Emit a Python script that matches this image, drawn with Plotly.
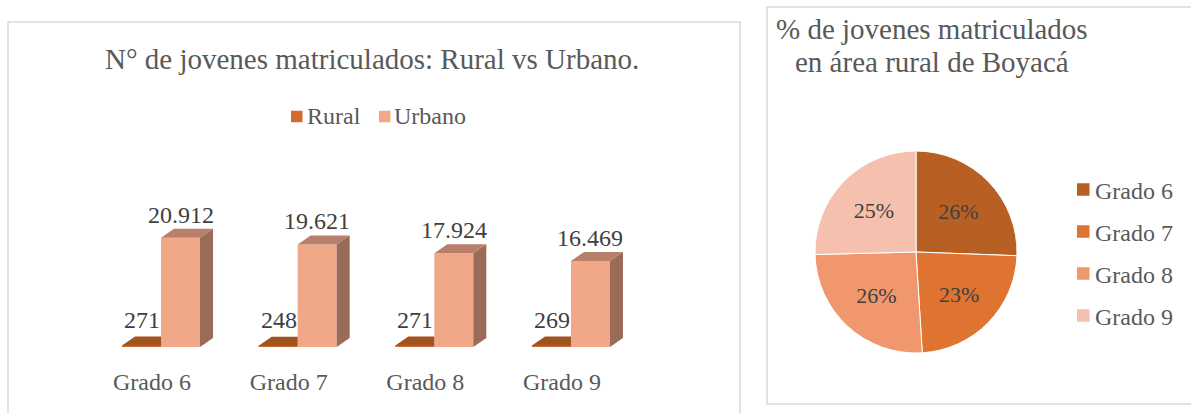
import plotly.graph_objects as go

# ---------------- data ----------------
categories = ["Grado 6", "Grado 7", "Grado 8", "Grado 9"]
rural = [271, 248, 271, 269]
urbano = [20912, 19621, 17924, 16469]
rural_labels = ["271", "248", "271", "269"]
urbano_labels = ["20.912", "19.621", "17.924", "16.469"]
series_names = ["Rural", "Urbano"]

bar_title = "N° de jovenes matriculados: Rural vs Urbano."
pie_title_1 = "% de jovenes matriculados"
pie_title_2 = "en área rural de Boyacá"

# ---------------- style / geometry ----------------
W, H = 1191, 413
FONT = "Liberation Serif, Times New Roman, serif"
GRAY = "#595959"
DARK = "#404040"

rural_front = "#C8662A"
rural_top = "#A0531F"
rural_legend = "#D26C2C"
urb_front = "#F0A889"
urb_top = "#B8806A"
urb_side = "#9A6B57"
pie_colors = ["#B86024", "#DE7430", "#F0976D", "#F5C0AD"]


def px(x):
    return x / W


def py(y):
    return 1 - y / H


X_DOM_PX = (92.7, 639.3)
X_RANGE = (-0.5, 3.5)
Y_DOM_PX = (138.0, 347.0)  # top, bottom
Y_RANGE = (0, 40000)

ux = (X_DOM_PX[1] - X_DOM_PX[0]) / (X_RANGE[1] - X_RANGE[0])  # px per x unit
uy = (Y_DOM_PX[1] - Y_DOM_PX[0]) / (Y_RANGE[1] - Y_RANGE[0])  # px per y unit

bw = 39 / ux          # bar width in x units
ddx = 13 / ux         # 3D depth offset
ddy = 9 / uy

idx = list(range(len(categories)))
rural_x = [i - bw / 2 for i in idx]
urb_x = [i + bw / 2 for i in idx]

fig = go.Figure()

# rural top faces (clipped where hidden by the urban bar)
for i, v in zip(idx, rural):
    xl, xr = i - bw, i
    fig.add_trace(go.Scatter(
        x=[xl, xl + ddx, xr, xr, xl], y=[v, v + ddy, v + ddy, v, v],
        mode="lines", fill="toself", fillcolor=rural_top,
        line=dict(width=0), showlegend=False, hoverinfo="skip"))

# urban top and side faces
for i, v in zip(idx, urbano):
    xl, xr = i, i + bw
    fig.add_trace(go.Scatter(
        x=[xl, xl + ddx, xr + ddx, xr, xl], y=[v, v + ddy, v + ddy, v, v],
        mode="lines", fill="toself", fillcolor=urb_top,
        line=dict(width=0), showlegend=False, hoverinfo="skip"))
    fig.add_trace(go.Scatter(
        x=[xr, xr, xr + ddx, xr + ddx, xr], y=[0, v, v + ddy, ddy, 0],
        mode="lines", fill="toself", fillcolor=urb_side,
        line=dict(width=0), showlegend=False, hoverinfo="skip"))

fig.add_trace(go.Bar(
    x=rural_x, y=rural, width=bw, name=series_names[0],
    marker=dict(color=rural_front, line=dict(width=0)),
    showlegend=False, hoverinfo="y"))
fig.add_trace(go.Bar(
    x=urb_x, y=urbano, width=bw, name=series_names[1],
    marker=dict(color=urb_front, line=dict(width=0)),
    showlegend=False, hoverinfo="y"))

fig.add_trace(go.Pie(
    labels=categories, values=rural, sort=False, direction="clockwise",
    rotation=0,
    domain=dict(x=[px(815), px(1017)], y=[py(353), py(151)]),
    marker=dict(colors=pie_colors, line=dict(color="white", width=1)),
    textinfo="percent", texttemplate="%{percent:.0%}",
    textposition="inside", insidetextorientation="horizontal",
    textfont=dict(family=FONT, size=22, color=DARK),
    showlegend=False, hoverinfo="label+value+percent"))

annotations = [
    dict(text=bar_title, x=px(372), y=py(59), xref="paper", yref="paper",
         showarrow=False, xanchor="center", yanchor="middle",
         font=dict(family=FONT, size=29, color=GRAY)),
    dict(text=pie_title_1, x=px(932), y=py(29), xref="paper", yref="paper",
         showarrow=False, xanchor="center", yanchor="middle",
         font=dict(family=FONT, size=29, color=GRAY)),
    dict(text=pie_title_2, x=px(932), y=py(62), xref="paper", yref="paper",
         showarrow=False, xanchor="center", yanchor="middle",
         font=dict(family=FONT, size=29, color=GRAY)),
]
for i, v, t in zip(idx, rural, rural_labels):
    annotations.append(dict(text=t, x=i, y=v, xref="x", yref="y",
                            showarrow=False, xanchor="right", yanchor="middle",
                            yshift=26, xshift=1,
                            font=dict(family=FONT, size=24, color=DARK)))
for i, v, t in zip(idx, urbano, urbano_labels):
    annotations.append(dict(text=t, x=i + bw / 2, y=v, xref="x", yref="y",
                            showarrow=False, xanchor="center", yanchor="middle",
                            yshift=23,
                            font=dict(family=FONT, size=24, color=DARK)))

shapes = [
    dict(type="rect", xref="paper", yref="paper",
         x0=px(8), x1=px(740), y0=py(420), y1=py(22),
         line=dict(color="#D9D9D9", width=1.5), fillcolor="rgba(0,0,0,0)",
         layer="below"),
    dict(type="rect", xref="paper", yref="paper",
         x0=px(767), x1=px(1200), y0=py(404), y1=py(7),
         line=dict(color="#D9D9D9", width=1.5), fillcolor="rgba(0,0,0,0)",
         layer="below"),
]

# ---- legend: bar chart (horizontal, top) ----
bar_legend_colors = [rural_legend, urb_front]
bar_legend_x = [291, 379]          # square left edge (px)
BAR_LEG_Y = 116.5
SQ = 11.5
for name, col, x0 in zip(series_names, bar_legend_colors, bar_legend_x):
    shapes.append(dict(type="rect", xref="paper", yref="paper",
                       x0=px(x0), x1=px(x0 + SQ),
                       y0=py(BAR_LEG_Y + SQ / 2), y1=py(BAR_LEG_Y - SQ / 2),
                       fillcolor=col, line=dict(width=0)))
    annotations.append(dict(text=name, x=px(x0 + SQ + 2), y=py(BAR_LEG_Y),
                            xref="paper", yref="paper", showarrow=False,
                            xanchor="left", yanchor="middle",
                            font=dict(family=FONT, size=24, color=GRAY)))

# ---- legend: pie chart (vertical, right) ----
PIE_LEG_X = 1077
PIE_LEG_Y0 = 189.5
PIE_LEG_STEP = 42
SQ2 = 12.5
for k, (name, col) in enumerate(zip(categories, pie_colors)):
    yc = PIE_LEG_Y0 + k * PIE_LEG_STEP
    shapes.append(dict(type="rect", xref="paper", yref="paper",
                       x0=px(PIE_LEG_X), x1=px(PIE_LEG_X + SQ2),
                       y0=py(yc + SQ2 / 2), y1=py(yc - SQ2 / 2),
                       fillcolor=col, line=dict(width=0)))
    annotations.append(dict(text=name, x=px(PIE_LEG_X + SQ2 + 3), y=py(yc + 1),
                            xref="paper", yref="paper", showarrow=False,
                            xanchor="left", yanchor="middle",
                            font=dict(family=FONT, size=24, color=GRAY)))

fig.update_layout(
    width=W, height=H, autosize=False,
    margin=dict(l=0, r=0, t=0, b=0),
    paper_bgcolor="white", plot_bgcolor="white",
    barmode="overlay",
    font=dict(family=FONT, color=GRAY),
    xaxis=dict(domain=[px(X_DOM_PX[0]), px(X_DOM_PX[1])], range=list(X_RANGE),
               tickvals=[i - 0.066 for i in idx], ticktext=categories,
               showgrid=False, zeroline=False, showline=False,
               ticks="", ticklabelstandoff=18,
               tickfont=dict(family=FONT, size=24, color=GRAY),
               fixedrange=True),
    yaxis=dict(domain=[py(Y_DOM_PX[1]), py(Y_DOM_PX[0])], range=list(Y_RANGE),
               visible=False, fixedrange=True),
    annotations=annotations,
    shapes=shapes,
    showlegend=False,
)

fig.write_html("out.html",
               config={"displayModeBar": False},
               post_script="document.body.style.margin='0';"
                           "document.body.style.overflow='hidden';")
